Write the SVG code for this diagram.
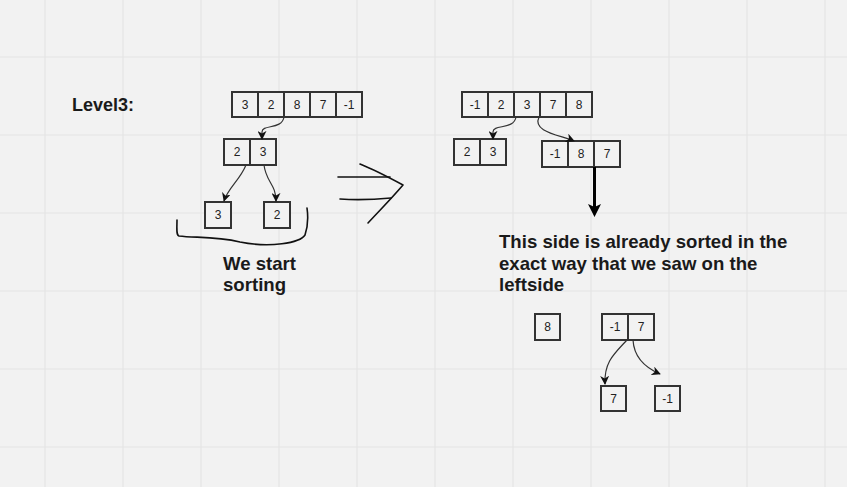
<svg xmlns="http://www.w3.org/2000/svg" width="847" height="487" viewBox="0 0 847 487">
<style>
.grid{stroke:#e4e4e4;stroke-width:1.2}
.box{fill:#f2f2f2;stroke:#333;stroke-width:2}
.num{font-family:"Liberation Sans",Arial,sans-serif;font-size:12px;fill:#222;text-anchor:middle}
.lbl{font-family:"Liberation Sans",Arial,sans-serif;font-size:18px;font-weight:bold;fill:#1a1a1a}
.note{font-size:18.6px}
.conn{fill:none;stroke:#333;stroke-width:1.2}
.hand{fill:none;stroke:#111;stroke-width:1.6;stroke-linecap:round;stroke-linejoin:round}
</style>
<defs>
<marker id="ah" viewBox="0 0 10 10" refX="9" refY="5" markerWidth="9" markerHeight="9" orient="auto" markerUnits="userSpaceOnUse">
<path d="M0,0 L10,5 L0,10 L3,5 z" fill="#111"/>
</marker>
</defs>
<rect width="847" height="487" fill="#f2f2f2"/>
<g id="grid">
<path class="grid" d="M45,0V487M123,0V487M201,0V487M279,0V487M357,0V487M435,0V487M513,0V487M591,0V487M669,0V487M747,0V487M825,0V487M0,57H847M0,135H847M0,213H847M0,291H847M0,369H847M0,447H847"/>
</g>
<g id="title"><text class="lbl" x="72" y="111">Level3:</text></g>

<g id="arr-left-top">
<rect class="box" x="232" y="92" width="26" height="25"/><text class="num" x="245" y="109">3</text>
<rect class="box" x="258" y="92" width="26" height="25"/><text class="num" x="271" y="109">2</text>
<rect class="box" x="284" y="92" width="26" height="25"/><text class="num" x="297" y="109">8</text>
<rect class="box" x="310" y="92" width="26" height="25"/><text class="num" x="323" y="109">7</text>
<rect class="box" x="336" y="92" width="26" height="25"/><text class="num" x="349" y="109">-1</text>
</g>
<g id="arr-left-mid">
<rect class="box" x="224" y="139" width="26" height="26"/><text class="num" x="237" y="156">2</text>
<rect class="box" x="250" y="139" width="26" height="26"/><text class="num" x="263" y="156">3</text>
</g>
<g id="leaf-3"><rect class="box" x="205" y="202" width="26" height="26"/><text class="num" x="218" y="219">3</text></g>
<g id="leaf-2"><rect class="box" x="264" y="202" width="26" height="26"/><text class="num" x="277" y="219">2</text></g>

<g id="arr-right-top">
<rect class="box" x="462" y="92" width="26" height="25"/><text class="num" x="475" y="109">-1</text>
<rect class="box" x="488" y="92" width="26" height="25"/><text class="num" x="501" y="109">2</text>
<rect class="box" x="514" y="92" width="26" height="25"/><text class="num" x="527" y="109">3</text>
<rect class="box" x="540" y="92" width="26" height="25"/><text class="num" x="553" y="109">7</text>
<rect class="box" x="566" y="92" width="26" height="25"/><text class="num" x="579" y="109">8</text>
</g>
<g id="arr-right-23">
<rect class="box" x="454" y="139" width="26" height="26"/><text class="num" x="467" y="156">2</text>
<rect class="box" x="480" y="139" width="26" height="26"/><text class="num" x="493" y="156">3</text>
</g>
<g id="arr-right-187">
<rect class="box" x="542" y="141" width="26" height="26"/><text class="num" x="555" y="158">-1</text>
<rect class="box" x="568" y="141" width="26" height="26"/><text class="num" x="581" y="158">8</text>
<rect class="box" x="594" y="141" width="26" height="26"/><text class="num" x="607" y="158">7</text>
</g>
<g id="single-8"><rect class="box" x="535" y="314" width="25" height="26"/><text class="num" x="547.5" y="331">8</text></g>
<g id="arr-17">
<rect class="box" x="602" y="314" width="26" height="26"/><text class="num" x="615" y="331">-1</text>
<rect class="box" x="628" y="314" width="26" height="26"/><text class="num" x="641" y="331">7</text>
</g>
<g id="leaf-7"><rect class="box" x="601" y="386" width="25" height="25"/><text class="num" x="613.5" y="403">7</text></g>
<g id="leaf-m1"><rect class="box" x="655" y="386" width="25" height="25"/><text class="num" x="667.5" y="403">-1</text></g>

<g id="connectors">
<path class="conn" marker-end="url(#ah)" d="M284,117 C282,130 262,124 262,132 L262,139"/>
<path class="conn" marker-end="url(#ah)" d="M246,165 C240,180 228,188 224,201"/>
<path class="conn" marker-end="url(#ah)" d="M264,165 C266,182 276,184 276,201"/>
<path class="conn" marker-end="url(#ah)" d="M516,117 C514,130 493,124 493,132 L493,139"/>
<path class="conn" marker-end="url(#ah)" d="M539,117 C532,132 560,135 574,141"/>
<path fill="none" stroke="#000" stroke-width="3" d="M594.5,167 V207"/>
<path fill="#000" d="M588,204 L594.5,217 L601,204 L594.5,207 z"/>
<path class="conn" marker-end="url(#ah)" d="M627,340 C614,354 604,362 605,384"/>
<path class="conn" marker-end="url(#ah)" d="M633,340 C634,358 646,368 660,374"/>
</g>

<g id="bracket"><path class="hand" d="M177,220 C177,228 176,235 179,236 C195,238 215,236 240,242 C270,248 300,243 305,235 C308,226 308,215 307,208"/></g>
<g id="implies">
<path class="hand" d="M338,177 L390,177"/>
<path class="hand" d="M340,199 C355,200 380,199 391,198"/>
<path class="hand" d="M360,164 C375,170 390,178 403,185 C392,198 380,210 368,223"/>
</g>

<g id="note-left"><text class="lbl note"><tspan x="223" y="270">We start</tspan><tspan x="223" y="291">sorting</tspan></text></g>
<g id="note-right"><text class="lbl note"><tspan x="499" y="248">This side is already sorted in the</tspan><tspan x="499" y="270">exact way that we saw on the</tspan><tspan x="499" y="291">leftside</tspan></text></g>
</svg>
